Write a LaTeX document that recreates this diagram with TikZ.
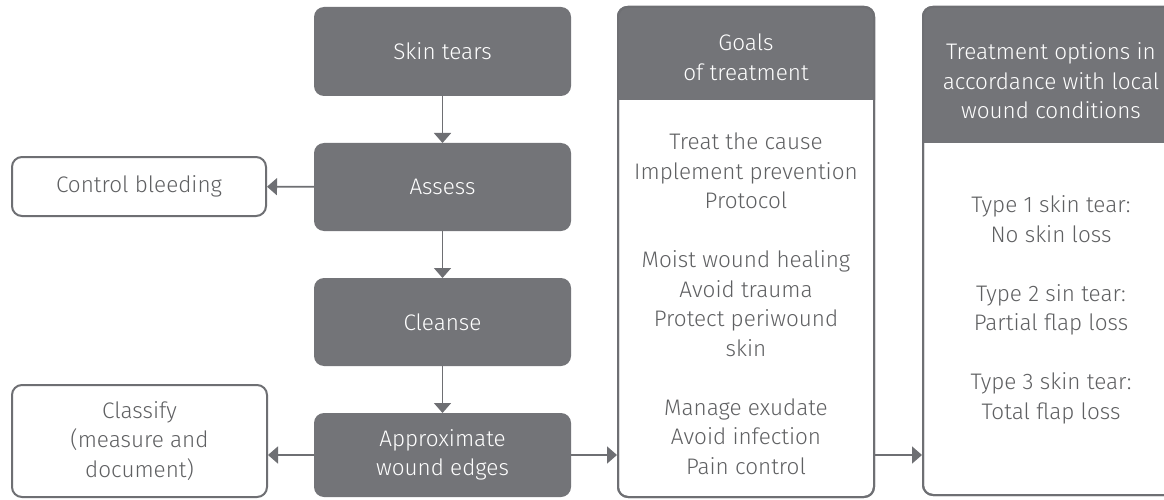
\documentclass[tikz,border=0pt]{standalone}
\usepackage{fontspec}
\setmainfont{Fira Sans}[UprightFont={* Light}]
\usetikzlibrary{arrows.meta}
\definecolor{boxfill}{RGB}{115,116,120}
\definecolor{txt}{RGB}{95,96,98}
\definecolor{edge}{RGB}{110,111,115}
\begin{document}
\begin{tikzpicture}[x=1pt,y=1pt,
  txtfont/.style={font=\fontsize{22.5}{29.5}\selectfont},
  dark/.style={rectangle, rounded corners=10pt, fill=boxfill, text=white, align=center, inner sep=0pt, outer sep=0pt, minimum width=257pt, txtfont},
  light/.style={rectangle, rounded corners=10pt, draw=edge, line width=2pt, fill=white, text=txt, align=center, inner sep=0pt, outer sep=1pt, txtfont},
  plain/.style={align=center, inner sep=0pt, txtfont},
  arr/.style={draw=edge, line width=1.6pt, -{Triangle[width=17pt,length=10pt]}}
]
\useasboundingbox (0,0) rectangle (1164,499);
\clip (0,0) rectangle (1164,499);
\fill[white] (0,0) rectangle (1164,499);
% left column
\node[dark, minimum height=89pt] (skin) at (442.5,447.5) {Skin tears};
\node[dark, minimum height=88pt] (assess) at (442.5,312) {Assess};
\node[dark, minimum height=88pt] (cleanse) at (442.5,177) {Cleanse};
\node[dark, minimum height=84pt] (approx) at (442.5,44) {Approximate\\wound edges};
\node[light, minimum width=254pt, minimum height=59pt] (bleed) at (139,312.5) {Control bleeding};
\node[light, minimum width=255pt, minimum height=112pt] (classify) at (139.5,58) {Classify\\(measure and\\document)};
% goals box
\node[light, minimum width=256pt, minimum height=490pt] (goals) at (746,247) {};
\fill[boxfill] (617,399) [rounded corners=10pt] -- (617,493) -- (875,493) [sharp corners] -- (875,399) -- cycle;
\draw[edge, line width=2pt, rounded corners=10pt] (618,2) rectangle (874,492);
\node[plain, text=white] (goalshead) at (746,441.5) {Goals\\of treatment};
\node[plain, text=txt] (goalsbody) at (746,195) {Treat the cause\\Implement prevention\\Protocol\\[29.5pt]Moist wound healing\\Avoid trauma\\Protect periwound\\skin\\[29.5pt]Manage exudate\\Avoid infection\\Pain control};
% treatment box
\node[light, minimum width=256pt, minimum height=488pt] (treat) at (1051,248) {};
\fill[boxfill] (922,356) [rounded corners=10pt] -- (922,493) -- (1180,493) [sharp corners] -- (1180,356) -- cycle;
\draw[edge, line width=2pt, rounded corners=10pt] (923,4) rectangle (1179,492);
\node[plain, text=white] (treathead) at (1051,418) {Treatment options in\\accordance with local\\wound conditions};
\node[plain, text=txt] (treatbody) at (1051,189) {Type 1 skin tear:\\No skin loss\\[29.5pt]Type 2 sin tear:\\Partial flap loss\\[29.5pt]Type 3 skin tear:\\Total flap loss};
% connectors
\draw[arr] (skin) -- (assess);
\draw[arr] (assess) -- (cleanse);
\draw[arr] (cleanse) -- (approx);
\draw[arr] (assess) -- (bleed);
\draw[arr] (approx.west) -- (approx.west -| classify.east);
\draw[arr] (approx.east) -- (approx.east -| goals.west);
\draw[arr] (goals.east |- approx.east) -- (approx.east -| treat.west);
\end{tikzpicture}
\end{document}
